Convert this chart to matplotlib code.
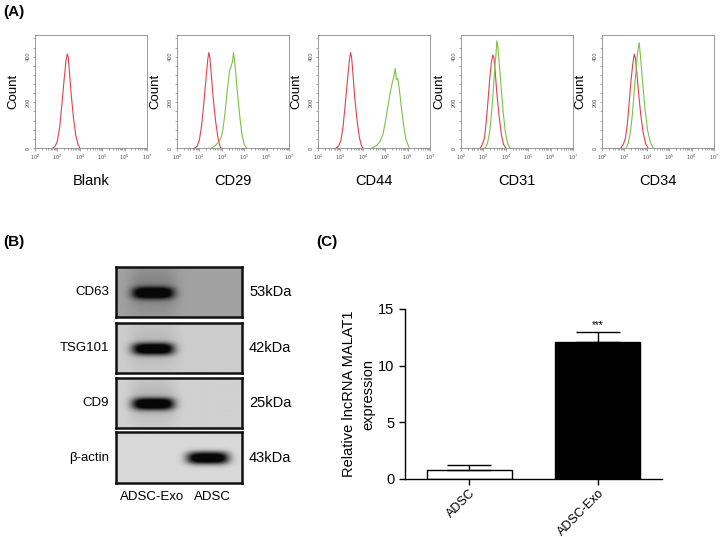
import matplotlib
matplotlib.use("Agg")
import matplotlib.pyplot as plt
import numpy as np
from matplotlib.ticker import FixedLocator, MultipleLocator, NullFormatter

plt.rcParams["font.family"] = ["Liberation Sans", "DejaVu Sans"]

W, H = 720, 537

# ---- (A) flow cytometry histograms: log10(intensity) vs count ----
FLOW_MARKERS = ["Blank", "CD29", "CD44", "CD31", "CD34"]

red_logx = {
    "Blank": [2.80, 2.90, 3.00, 3.10, 3.20, 3.30, 3.38, 3.44, 3.48, 3.54, 3.62, 3.72, 3.82, 3.92, 4.00],
    "CD29":  [2.79, 2.90, 3.00, 3.10, 3.20, 3.30, 3.37, 3.42, 3.47, 3.53, 3.62, 3.72, 3.82, 3.90, 3.96],
    "CD44":  [2.81, 2.92, 3.02, 3.12, 3.22, 3.32, 3.40, 3.45, 3.50, 3.56, 3.64, 3.74, 3.84, 3.93, 4.00],
    "CD31":  [2.86, 2.95, 3.05, 3.12, 3.20, 3.28, 3.35, 3.42, 3.47, 3.53, 3.60, 3.70, 3.80, 3.90, 4.00],
    "CD34":  [2.84, 2.95, 3.05, 3.13, 3.21, 3.29, 3.37, 3.44, 3.49, 3.55, 3.63, 3.73, 3.84, 3.95, 4.06],
}
red_count = {
    "Blank": [0, 8, 30, 90, 190, 300, 380, 412, 400, 330, 230, 130, 55, 15, 0],
    "CD29":  [0, 8, 35, 100, 200, 310, 385, 418, 395, 320, 215, 120, 50, 12, 0],
    "CD44":  [0, 8, 32, 95, 195, 305, 382, 418, 398, 325, 220, 125, 50, 12, 0],
    "CD31":  [0, 15, 45, 110, 200, 300, 370, 408, 395, 330, 240, 140, 60, 15, 0],
    "CD34":  [0, 15, 45, 105, 195, 290, 365, 411, 395, 335, 245, 145, 65, 18, 0],
}
green_logx = {
    "Blank": [],
    "CD29": [3.55, 3.70, 3.85, 3.95, 4.05, 4.15, 4.25, 4.35, 4.42, 4.48, 4.52, 4.56, 4.62, 4.70, 4.80, 4.90, 5.00, 5.10],
    "CD44": [4.40, 4.60, 4.75, 4.90, 5.00, 5.10, 5.20, 5.30, 5.38, 5.45, 5.50, 5.56, 5.64, 5.72, 5.82, 5.92, 6.07],
    "CD31": [3.08, 3.18, 3.28, 3.36, 3.44, 3.50, 3.56, 3.60, 3.64, 3.70, 3.78, 3.88, 3.98, 4.08, 4.19],
    "CD34": [3.07, 3.17, 3.27, 3.36, 3.44, 3.51, 3.57, 3.62, 3.66, 3.72, 3.80, 3.92, 4.04, 4.16, 4.28],
}
green_count = {
    "Blank": [],
    "CD29": [0, 10, 25, 40, 80, 160, 260, 340, 360, 380, 418, 390, 330, 240, 140, 60, 15, 0],
    "CD44": [0, 10, 25, 60, 110, 170, 230, 280, 310, 348, 300, 305, 250, 180, 100, 40, 0],
    "CD31": [0, 20, 70, 150, 250, 340, 410, 470, 450, 380, 280, 160, 70, 20, 0],
    "CD34": [0, 20, 70, 150, 250, 330, 400, 440, 461, 400, 300, 170, 75, 25, 0],
}

# ---- (B) western blot ----
blot_proteins = ["CD63", "TSG101", "CD9", "β-actin"]
blot_sizes = ["53kDa", "42kDa", "25kDa", "43kDa"]
blot_lanes = ["ADSC-Exo", "ADSC"]
band_intensity = [[0.95, 0.0], [0.97, 0.0], [0.97, 0.0], [0.0, 1.0]]
blot_background = [0.63, 0.80, 0.82, 0.85]
lane1_smear = [0.22, 0.10, 0.14, 0.0]

# ---- (C) qPCR bar chart ----
bar_groups = ["ADSC", "ADSC-Exo"]
bar_means = [0.83, 12.1]
bar_errs = [0.37, 0.9]
bar_colors = ["white", "black"]


def px_axes(fig, left, top, right, bottom):
    return fig.add_axes([left / W, 1 - bottom / H, (right - left) / W, (bottom - top) / H])


fig = plt.figure(figsize=(W / 100, H / 100), dpi=100)

RED = "#e0424e"
GREEN = "#7cc243"
flow_lefts = [35, 177, 318, 461, 602]
for name, left in zip(FLOW_MARKERS, flow_lefts):
    ax = px_axes(fig, left, 35, left + 112, 148)
    ax.plot(np.power(10.0, red_logx[name]), red_count[name], color=RED, lw=0.8)
    if green_logx[name]:
        ax.plot(np.power(10.0, green_logx[name]), green_count[name], color=GREEN, lw=0.8)
    ax.set_xscale("log")
    ax.set_xlim(1e2, 1e7)
    ax.set_ylim(0, 495)
    ax.yaxis.set_major_locator(FixedLocator([0, 200, 400]))
    ax.yaxis.set_minor_locator(MultipleLocator(40))
    ax.xaxis.set_major_locator(FixedLocator([1e2, 1e3, 1e4, 1e5, 1e6, 1e7]))
    ax.xaxis.set_minor_formatter(NullFormatter())
    ax.tick_params(which="both", labelsize=4, length=1.8, width=0.4, color="#666666",
                   labelcolor="#555555", pad=1.5)
    ax.tick_params(which="minor", length=1.2)
    for lbl in ax.get_yticklabels():
        lbl.set_rotation(90)
        lbl.set_va("center")
    for sp in ax.spines.values():
        sp.set_color("#888888")
        sp.set_linewidth(0.6)
    ax.set_ylabel("Count", fontsize=9.5)
    ax.yaxis.set_label_coords(-0.14, 0.5)
    fig.text((left + 56) / W, 1 - 181 / H, name, ha="center", va="center", fontsize=10.5)

# western blot panels
blot_boxes = [(267, 317), (323, 373), (378, 428), (432, 483)]
lane_centers = [0.29, 0.72]
for i, (top, bottom) in enumerate(blot_boxes):
    ax = px_axes(fig, 116, top, 242, bottom)
    ny, nx = 60, 150
    yy, xx = np.mgrid[0:ny, 0:nx]
    xf = xx / nx
    yf = yy / ny
    dark = np.zeros((ny, nx))
    for lane, cx in enumerate(lane_centers):
        amp = band_intensity[i][lane]
        if amp > 0:
            dark += amp * np.exp(-(np.abs(xf - cx) / 0.165) ** 4) \
                * np.exp(-(np.abs(yf - 0.51) / 0.12) ** 2.5) * 1.3
    if lane1_smear[i] > 0:
        dark += lane1_smear[i] * np.exp(-(np.abs(xf - lane_centers[0]) / 0.18) ** 4) \
            * np.exp(-((yf - 0.45) / 0.45) ** 2)
    dark = np.clip(dark, 0, 1)
    img = blot_background[i] * (1 - dark) + 0.03 * dark
    ax.imshow(img, cmap="gray", vmin=0, vmax=1, aspect="auto", interpolation="bilinear")
    ax.set_xticks([])
    ax.set_yticks([])
    for sp in ax.spines.values():
        sp.set_linewidth(1.8)
        sp.set_color("#111111")
    mid = 1 - (top + bottom) / 2 / H
    fig.text(109 / W, mid, blot_proteins[i], ha="right", va="center", fontsize=9.5)
    fig.text(249 / W, mid, blot_sizes[i], ha="left", va="center", fontsize=10.5)

for name, cx in zip(blot_lanes, [152, 212]):
    fig.text(cx / W, 1 - 497 / H, name, ha="center", va="center", fontsize=9.5)

# bar chart
axc = px_axes(fig, 405, 309, 662, 479)
x = np.arange(len(bar_groups))
axc.bar(x, bar_means, width=0.66, color=bar_colors, edgecolor="black", linewidth=1.0)
axc.errorbar(x, bar_means, yerr=[[0] * len(bar_errs), bar_errs], fmt="none",
             ecolor="black", elinewidth=1.0, capsize=15.5, capthick=1.0)
axc.text(1, bar_means[1] + bar_errs[1] + 0.15, "***", ha="center", va="bottom", fontsize=7)
axc.set_xlim(-0.5, 1.5)
axc.set_ylim(0, 15)
axc.set_yticks([0, 5, 10, 15])
axc.set_xticks(x)
axc.set_xticklabels(bar_groups, rotation=45, ha="right", rotation_mode="anchor", fontsize=9)
axc.tick_params(axis="y", labelsize=10.5, width=1.0, length=4)
axc.tick_params(axis="x", width=1.0, length=4, pad=1.5)
for side in ["top", "right"]:
    axc.spines[side].set_visible(False)
for side in ["left", "bottom"]:
    axc.spines[side].set_linewidth(1.0)
axc.set_ylabel("Relative lncRNA MALAT1\nexpression", fontsize=10.5, linespacing=1.45, labelpad=2)

fig.text(3 / W, 1 - 12 / H, "(A)", fontsize=11, fontweight="bold", ha="left", va="center")
fig.text(3 / W, 1 - 242 / H, "(B)", fontsize=11, fontweight="bold", ha="left", va="center")
fig.text(316 / W, 1 - 242 / H, "(C)", fontsize=11, fontweight="bold", ha="left", va="center")

fig.savefig("out.png", dpi=100)
